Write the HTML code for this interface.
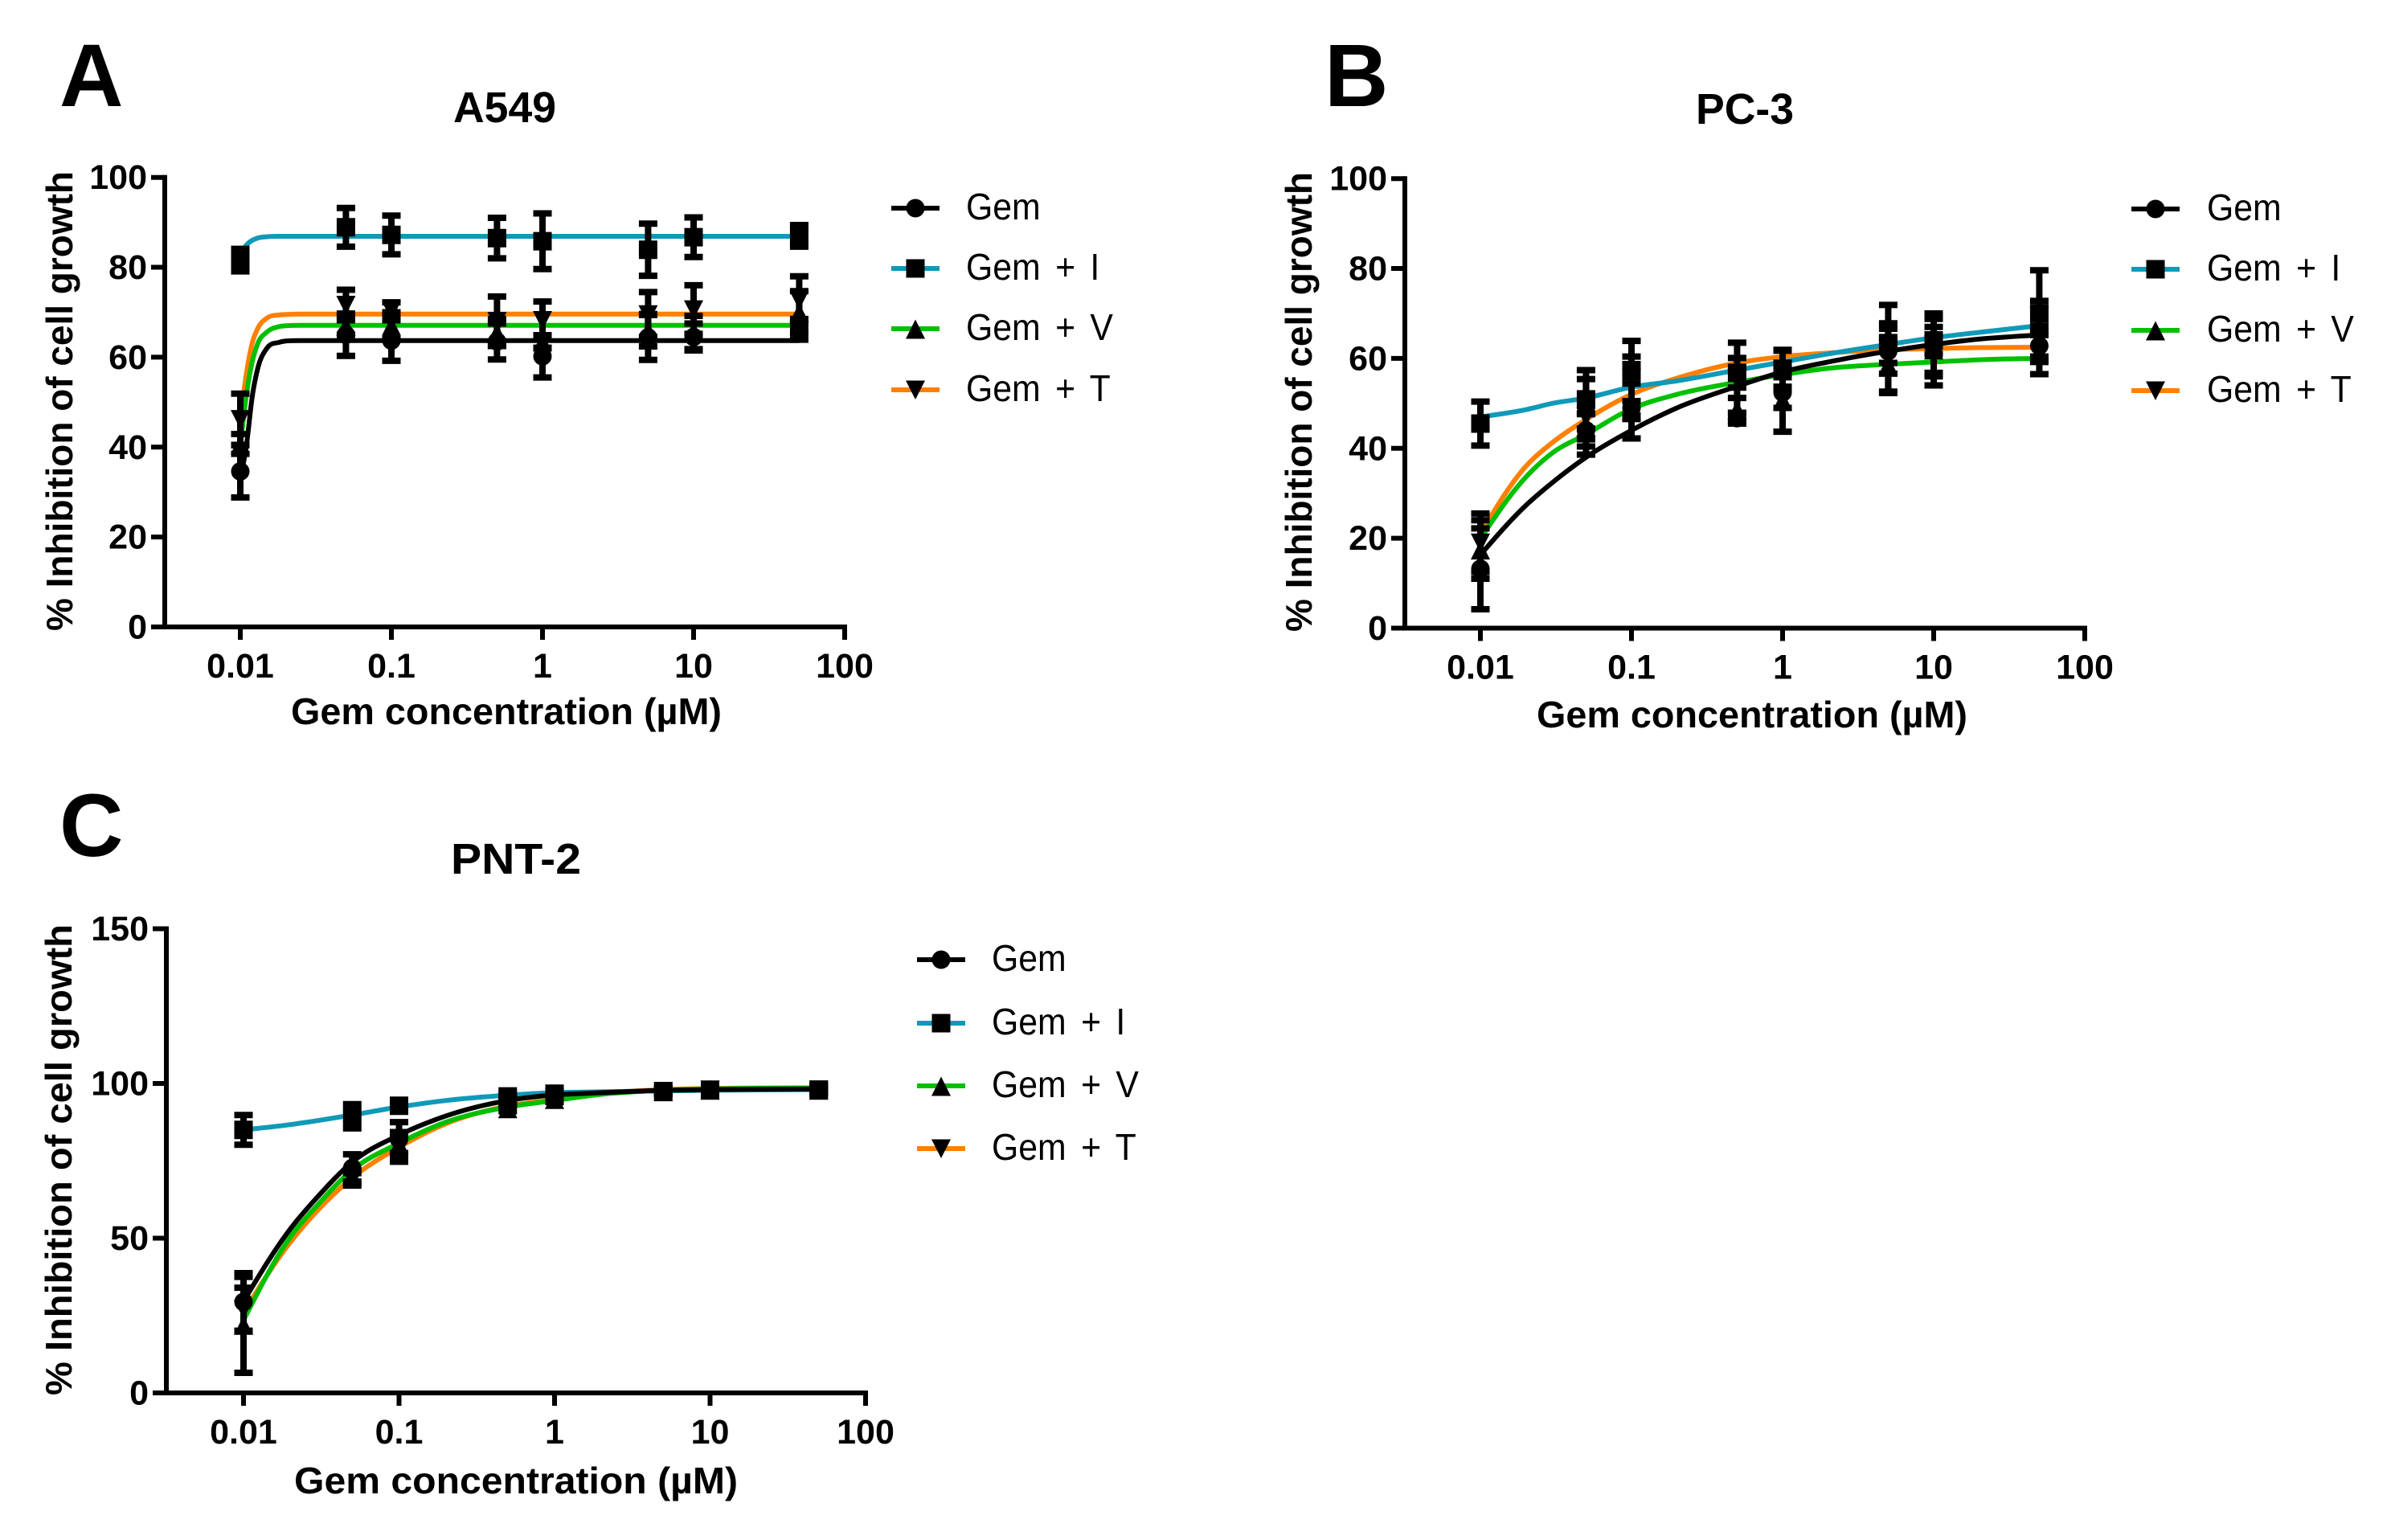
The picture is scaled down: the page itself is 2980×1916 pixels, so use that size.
<!DOCTYPE html>
<html lang="en">
<head>
<meta charset="utf-8">
<title>Gem concentration vs inhibition of cell growth</title>
<style>
html,body{margin:0;padding:0;background:#fff;}
svg{display:block;}
text{font-family:"Liberation Sans",Arial,sans-serif;fill:#000;}
.letter{font-weight:700;font-size:110px;}
.title{font-weight:700;font-size:54px;text-anchor:middle;}
.axis-title{font-weight:700;font-size:46px;text-anchor:middle;}
.tick{font-weight:700;font-size:43px;}
.legend-label{font-size:46px;word-spacing:7px;}
</style>
</head>
<body>
<svg id="fig" width="2980" height="1916" viewBox="0 0 2980 1916" xmlns="http://www.w3.org/2000/svg">
  <rect width="2980" height="1916" fill="#fff"/>

  <g id="panel-a">
    <text class="letter" x="74" y="132">A</text>
    <text class="title" x="628" y="152" textLength="128" lengthAdjust="spacingAndGlyphs">A549</text>
    <text class="axis-title" x="630" y="901" textLength="536" lengthAdjust="spacingAndGlyphs">Gem concentration (µM)</text>
    <text class="axis-title" transform="translate(90 499) rotate(-90)" textLength="572" lengthAdjust="spacingAndGlyphs">% Inhibition of cell growth</text>
  </g>

  <g id="panel-b">
    <text class="letter" x="1648" y="132">B</text>
    <text class="title" x="2171" y="154" textLength="122" lengthAdjust="spacingAndGlyphs">PC-3</text>
    <text class="axis-title" x="2180" y="905" textLength="536" lengthAdjust="spacingAndGlyphs">Gem concentration (µM)</text>
    <text class="axis-title" transform="translate(1632 500) rotate(-90)" textLength="572" lengthAdjust="spacingAndGlyphs">% Inhibition of cell growth</text>
  </g>

  <g id="panel-c">
    <text class="letter" x="74" y="1065">C</text>
    <text class="title" x="642" y="1087" textLength="162" lengthAdjust="spacingAndGlyphs">PNT-2</text>
    <text class="axis-title" x="642" y="1858" textLength="552" lengthAdjust="spacingAndGlyphs">Gem concentration (µM)</text>
    <text class="axis-title" transform="translate(89 1443) rotate(-90)" textLength="586" lengthAdjust="spacingAndGlyphs">% Inhibition of cell growth</text>
  </g>
</svg>

<script>
/* ---------- shared categories ---------- */
const seriesNames = ["Gem", "Gem + I", "Gem + V", "Gem + T"];
const doses = [0.01, 0.05, 0.1, 0.5, 1, 5, 10, 50];
const xTickValues = [0.01, 0.1, 1, 10, 100];
const xTickLabels = ["0.01", "0.1", "1", "10", "100"];
const yTicksAB = [0, 20, 40, 60, 80, 100];
const yTicksC = [0, 50, 100, 150];

/* ---------- panel A : A549 ---------- */
const aGemMean = [34.6, 65, 63.7, 63.5, 60.2, 64.4, 64.5, 66.2];
const aGemErr  = [5.8, 4.7, 4.5, 4, 4.7, 5, 3, 2.3];
const aIMean   = [81.6, 88.9, 87.2, 86.5, 85.8, 83.9, 86.7, 87];
const aIErr    = [2.5, 4.3, 4.3, 4.5, 6.2, 5.8, 4.4, 2.4];
const aVMean   = [40.7, 67, 67, 65.5, 63.5, 66, 65.5, 70];
const aVErr    = [2.2, 2, 3, 3, 1.4, 3.6, 3.7, 4.7];
const aTMean   = [46.2, 71.6, 70.4, 68, 68.2, 69.5, 70.6, 72.7];
const aTErr    = [5.7, 3.4, 1.8, 5.5, 4.2, 5, 5.4, 5.3];
const aCurveDose = [0.01, 0.011, 0.012, 0.013, 0.015, 0.018, 0.02, 0.025, 50];
const aGemCurve = [33, 40.6, 51.3, 57.3, 62, 63.3, 63.6, 63.7, 63.7];
const aICurve   = [83, 85, 86, 86.5, 86.8, 86.9, 86.9, 86.9, 86.9];
const aVCurve   = [40, 51.9, 59, 62.9, 65.6, 66.8, 67, 67.1, 67.1];
const aTCurve   = [46, 56.6, 63.2, 66.3, 68.7, 69.4, 69.5, 69.6, 69.6];

/* ---------- panel B : PC-3 ---------- */
const bGemMean = [13.2, 44, 49, 46.7, 52.4, 61.6, 62.8, 62.8];
const bGemErr  = [9, 3.6, 6.8, 1.2, 3.4, 5, 6, 2.4];
const bIMean   = [45.5, 50.9, 57.4, 56.8, 57.7, 63.4, 64, 70];
const bIErr    = [4.9, 6.5, 3, 3.3, 4, 4.4, 3, 2.8];
const bVMean   = [17.5, 44.9, 48.5, 48.7, 50.8, 58.6, 62, 61.3];
const bVErr    = [6.5, 2.9, 2, 2.5, 7.1, 6, 8, 4.8];
const bTMean   = [19, 47, 55.6, 55.7, 57.4, 62.1, 63, 69.4];
const bTErr    = [6.5, 8.4, 8.3, 7.8, 4.5, 9.8, 7, 10.2];
const bCurveDose = [0.01, 0.02, 0.03, 0.05, 0.1, 0.2, 0.5, 1, 2, 5, 10, 20, 50];
const bGemCurve = [16.3, 27.3, 32.4, 38, 44, 49, 53.8, 57, 59.2, 61.6, 63.1, 64.3, 65.2];
const bICurve   = [47, 48.6, 50, 51.2, 53.6, 55, 57.4, 59.2, 61, 63.1, 64.6, 65.8, 67.3];
const bVCurve   = [19.9, 33.6, 39, 43.1, 48.8, 52, 54.7, 56.4, 57.8, 58.7, 59.2, 59.7, 60];
const bTCurve   = [21, 36, 41.3, 46.4, 52, 55.6, 59, 60.4, 61.2, 61.9, 62.2, 62.4, 62.5];

/* ---------- panel C : PNT-2 ---------- */
const cGemMean = [29.4, 72.7, 82, 94.5, 96, 97.5, 98, 98];
const cGemErr  = [9.3, 4.4, 5.5, 1, 1, 1, 1, 1];
const cIMean   = [85, 89.4, 92.8, 95.8, 96.7, 97.5, 97.8, 98];
const cIErr    = [4.8, 3.9, 1, 1, 1, 1, 1, 1.5];
const cVMean   = [22, 70, 80.5, 92, 95, 97.5, 98, 98];
const cVErr    = [15.5, 2, 3, 1, 1, 1, 1, 1];
const cTMean   = [27, 69, 79.5, 94, 95.5, 97.5, 98, 98];
const cTErr    = [7, 2, 4.8, 1, 1, 1, 1, 1];
const cCurveDose = [0.01, 0.02, 0.03, 0.05, 0.1, 0.2, 0.5, 1, 2, 5, 10, 50];
const cGemCurve = [29.6, 53, 63.4, 74.6, 83.3, 89.5, 94.5, 96.3, 97, 97.8, 98, 98.2];
const cICurve   = [85, 86.7, 88, 89.8, 92.4, 94.5, 96.2, 97, 97.3, 97.6, 97.8, 98];
const cVCurve   = [23.5, 50.4, 60.8, 72, 80.7, 87.5, 92.4, 94.5, 96.5, 97.8, 98.2, 98.6];
const cTCurve   = [26, 48.7, 59, 69.5, 79.4, 87, 92.7, 94.8, 96.8, 98, 98.4, 98.6];

const NS = "http://www.w3.org/2000/svg";
const colorGem = "#000000";
const colorI = "#1199b8";
const colorV = "#00c000";
const colorT = "#ff8000";

function svgEl(tag, parent) {
  const el = document.createElementNS(NS, tag);
  parent.appendChild(el);
  return el;
}

function markerPath(kind, x, y) {
  const s = 11.5;
  if (kind === "circle") {
    return "M" + (x - s) + " " + y + "a" + s + " " + s + " 0 1 0 " + (2 * s) + " 0a" + s + " " + s + " 0 1 0 " + (-2 * s) + " 0Z";
  }
  if (kind === "square") {
    return "M" + (x - s) + " " + (y - s) + "h" + (2 * s) + "v" + (2 * s) + "h" + (-2 * s) + "Z";
  }
  if (kind === "up") {
    return "M" + x + " " + (y - 11.5) + "L" + (x + s + 0.5) + " " + (y + 12.5) + "H" + (x - s - 0.5) + "Z";
  }
  return "M" + x + " " + (y + 12) + "L" + (x + s + 0.5) + " " + (y - 11.5) + "H" + (x - s - 0.5) + "Z";
}

function smoothPath(px, py) {
  const n = px.length;
  const d = [];
  const w = [];
  for (let i = 0; i < n - 1; i++) {
    w.push(px[i + 1] - px[i]);
    d.push((py[i + 1] - py[i]) / w[i]);
  }
  const m = new Array(n).fill(0);
  for (let i = 1; i < n - 1; i++) {
    if (d[i - 1] * d[i] > 0) {
      const t = (w[i - 1] * d[i] + w[i] * d[i - 1]) / (w[i - 1] + w[i]);
      const lim = 3 * Math.min(Math.abs(d[i - 1]), Math.abs(d[i]));
      m[i] = Math.sign(t) * Math.min(Math.abs(t), lim);
    }
  }
  m[0] = (3 * d[0] - m[1]) / 2;
  if (m[0] * d[0] < 0) m[0] = 0;
  m[n - 1] = (3 * d[n - 2] - m[n - 2]) / 2;
  if (m[n - 1] * d[n - 2] <= 0) m[n - 1] = 0;
  let out = "M" + px[0].toFixed(2) + " " + py[0].toFixed(2);
  for (let i = 0; i < n - 1; i++) {
    const h = w[i] / 3;
    out += "C" + (px[i] + h).toFixed(2) + " " + (py[i] + m[i] * h).toFixed(2) + " " +
      (px[i + 1] - h).toFixed(2) + " " + (py[i + 1] - m[i + 1] * h).toFixed(2) + " " +
      px[i + 1].toFixed(2) + " " + py[i + 1].toFixed(2);
  }
  return out;
}

function drawPanel(g, prefix, geo, yTicks, curveDose, curves, means, errs) {
  const xScale = v => geo.x001 + geo.decade * (Math.log10(v) + 2);
  const yScale = v => geo.y0 - v * geo.unit;
  const kinds = ["circle", "square", "up", "down"];
  const colors = [colorGem, colorI, colorV, colorT];
  const keys = ["gem", "gem-i", "gem-v", "gem-t"];

  /* fitted curves: T, V, I, Gem order (Gem on top) */
  [3, 2, 1, 0].forEach(function (s) {
    const line = svgEl("path", g);
    
    
    line.setAttribute("d", smoothPath(curveDose.map(xScale), curves[s].map(yScale)));
    line.setAttribute("fill", "none");
    line.setAttribute("stroke", colors[s]);
    line.setAttribute("stroke-width", "6");
  });

  /* error bars and markers */
  [3, 2, 1, 0].forEach(function (s) {
    doses.forEach(function (dose, i) {
      const x = xScale(dose);
      const top = yScale(means[s][i] + errs[s][i]);
      const bottom = yScale(means[s][i] - errs[s][i]);
      const bar = svgEl("path", g);
      
      
      bar.setAttribute("d", "M" + (x - 4) + " " + top + "h8V" + bottom + "h-8Z" +
        "M" + (x - 11.5) + " " + (top - 4) + "h23v8h-23Z" +
        "M" + (x - 11.5) + " " + (bottom - 4) + "h23v8h-23Z");
      bar.setAttribute("fill", "#000");
      const mark = svgEl("path", g);
      
      
      mark.setAttribute("d", markerPath(kinds[s], x, yScale(means[s][i])));
      mark.setAttribute("fill", "#000");
    });
  });

  /* axes */
  const yAxis = svgEl("line", g);
  
  
  yAxis.setAttribute("x1", geo.axisX);
  yAxis.setAttribute("x2", geo.axisX);
  yAxis.setAttribute("y1", yScale(yTicks[yTicks.length - 1]) - 3);
  yAxis.setAttribute("y2", geo.y0 + 3);
  yAxis.setAttribute("stroke", "#000");
  yAxis.setAttribute("stroke-width", "6");

  const xAxis = svgEl("line", g);
  
  
  xAxis.setAttribute("x1", geo.axisX);
  xAxis.setAttribute("x2", xScale(xTickValues[xTickValues.length - 1]) + 3);
  xAxis.setAttribute("y1", geo.y0);
  xAxis.setAttribute("y2", geo.y0);
  xAxis.setAttribute("stroke", "#000");
  xAxis.setAttribute("stroke-width", "6");

  yTicks.forEach(function (v) {
    const y = yScale(v);
    const tick = svgEl("line", g);
    
    
    tick.setAttribute("x1", geo.axisX - 17);
    tick.setAttribute("x2", geo.axisX);
    tick.setAttribute("y1", y);
    tick.setAttribute("y2", y);
    tick.setAttribute("stroke", "#000");
    tick.setAttribute("stroke-width", "6");
    const label = svgEl("text", g);
    
    
    label.setAttribute("class", "tick");
    label.setAttribute("x", geo.axisX - 22);
    label.setAttribute("y", y + 14.5);
    label.setAttribute("text-anchor", "end");
    label.textContent = String(v);
  });

  xTickValues.forEach(function (v, i) {
    const x = xScale(v);
    const tick = svgEl("line", g);
    
    
    tick.setAttribute("x1", x);
    tick.setAttribute("x2", x);
    tick.setAttribute("y1", geo.y0);
    tick.setAttribute("y2", geo.y0 + 16);
    tick.setAttribute("stroke", "#000");
    tick.setAttribute("stroke-width", "6");
    const label = svgEl("text", g);
    
    
    label.setAttribute("class", "tick");
    label.setAttribute("x", x);
    label.setAttribute("y", geo.y0 + 63);
    label.setAttribute("text-anchor", "middle");
    label.textContent = xTickLabels[i];
  });

  /* legend */
  seriesNames.forEach(function (name, s) {
    const y = geo.legendY[s];
    const sample = svgEl("line", g);
    
    
    sample.setAttribute("x1", geo.legendX);
    sample.setAttribute("x2", geo.legendX + 60);
    sample.setAttribute("y1", y);
    sample.setAttribute("y2", y);
    sample.setAttribute("stroke", colors[s]);
    sample.setAttribute("stroke-width", "6");
    const mark = svgEl("path", g);
    
    
    mark.setAttribute("d", markerPath(kinds[s], geo.legendX + 30, y));
    mark.setAttribute("fill", "#000");
    const label = svgEl("text", g);
    
    
    label.setAttribute("class", "legend-label");
    label.setAttribute("transform", "translate(" + geo.legendTextX + " " + (y + 14) + ") scale(0.93 1)");
    label.textContent = name;
  });
}

drawPanel(document.getElementById("panel-a"), "a",
  {x001: 299, decade: 188, axisX: 205, y0: 780, unit: 5.593, legendX: 1109, legendTextX: 1202, legendY: [259, 334, 409, 485]},
  yTicksAB, aCurveDose, [aGemCurve, aICurve, aVCurve, aTCurve],
  [aGemMean, aIMean, aVMean, aTMean], [aGemErr, aIErr, aVErr, aTErr]);

drawPanel(document.getElementById("panel-b"), "b",
  {x001: 1842, decade: 188, axisX: 1748, y0: 781.5, unit: 5.593, legendX: 2652, legendTextX: 2746, legendY: [260, 335, 411, 486]},
  yTicksAB, bCurveDose, [bGemCurve, bICurve, bVCurve, bTCurve],
  [bGemMean, bIMean, bVMean, bTMean], [bGemErr, bIErr, bVErr, bTErr]);

drawPanel(document.getElementById("panel-c"), "c",
  {x001: 303, decade: 193.5, axisX: 207, y0: 1733, unit: 3.85, legendX: 1141, legendTextX: 1234, legendY: [1194, 1273, 1351, 1429]},
  yTicksC, cCurveDose, [cGemCurve, cICurve, cVCurve, cTCurve],
  [cGemMean, cIMean, cVMean, cTMean], [cGemErr, cIErr, cVErr, cTErr]);
</script>
</body>
</html>
